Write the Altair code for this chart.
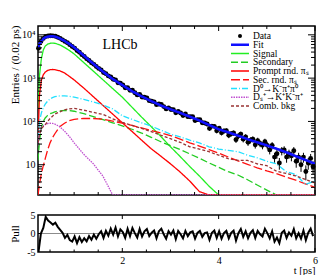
import altair as alt
import pandas as pd

# ---------------- data ----------------
# decay-time bin centres [ps]
t_data = [round(0.26 + 0.05 * i, 2) for i in range(115)]
# entries per 0.02 ps
n_data = [4900, 7050, 8270, 9130, 9390, 9520, 9470, 9300, 8820, 8290,
          7650, 7050, 6540, 5930, 5370, 4940, 4330, 3970, 3490, 3150,
          2790, 2550, 2260, 2080, 1850, 1680, 1555, 1350, 1270, 1125,
          1060, 940, 910, 785, 765, 695, 600, 605, 523, 527,
          461, 410, 422, 366, 361, 349, 302, 292, 283, 244,
          253, 247, 220, 195, 206, 189, 187, 159, 170, 157,
          137, 148, 129, 128, 128, 105, 110, 109, 93, 92,
          87, 69, 78, 77, 61, 70, 55, 60, 61, 48,
          52, 54, 38, 46, 51, 39, 44, 33, 37, 39,
          29, 36, 31, 28, 34, 28, 22, 28, 15, 18,
          11, 21, 22, 15, 18, 16, 21, 12, 15, 10,
          15, 7, 11, 14, 9]
pull_data = [-5.0, 0.0, 1.5, 4.5, 3.5, 3.0, 2.4, 2.9, 1.8, 1.0,
             0.2, -1.2, -0.4, -1.8, -2.2, -0.8, -2.6, -1.0, -2.3, -1.3,
             -2.1, -0.7, -1.7, -0.3, -1.4, -0.2, 0.6, -1.2, 0.7, -0.6,
             1.3, -0.3, 1.6, -0.8, 1.1, 0.4, -1.2, 1.3, -0.7, 1.5,
             0.1, -1.1, 1.2, -0.8, 0.6, 1.2, -0.7, 0.2, 0.8, -1.3,
             0.6, 1.3, -0.2, -1.4, 0.6, -0.3, 0.8, -1.5, 0.7, -0.2,
             -1.3, 0.7, -0.7, 0.3, 0.6, -1.4, 0.2, 0.7, -0.9, 0.1,
             0.3, -1.7, 0.2, 0.8, -1.2, 0.6, -1.4, 0.1, 0.7, -1.3,
             0.2, 0.8, -1.9, 0.1, 1.2, -0.9, 0.6, -1.3, 0.2, 0.9,
             -1.2, 0.7, -0.2, -0.8, 1.3, 0.1, -1.3, 0.6, -2.2, -1.1,
             -2.6, 0.2, 0.8, -1.2, 0.3, -0.6, 1.2, -1.3, 0.1, -1.4,
             0.8, -1.8, 0.2, 1.3, -0.7]

t_knots = [0.25, 0.28, 0.32, 0.36, 0.40, 0.45, 0.50, 0.55, 0.60, 0.70, 0.80, 0.90, 1.0,
           1.2, 1.4, 1.6, 1.8, 2.0, 2.2, 2.4, 2.6, 2.8, 3.0, 3.2, 3.4, 3.6, 3.8, 4.0,
           4.2, 4.4, 4.6, 4.8, 5.0, 5.2, 5.4, 5.6, 5.8, 6.0]
fit_vals = [5000, 6170, 7240, 8130, 8710, 9060, 9230, 9250, 9120, 8320, 7240, 6170, 5130,
            3310, 2140, 1410, 955, 692, 501, 380, 295, 234, 191, 158, 129, 105, 83, 66,
            56, 47, 39, 33, 28, 23.4, 19.5, 15.8, 12.9, 10.5]
signal_vals = [200, 1120, 2820, 4470, 5500, 6100, 6380, 6460, 6380, 5890, 5130, 4370, 3630,
               2290, 1445, 912, 575, 363, 214, 126, 76, 45, 26, 15.5, 9.1, 5.5, 3.2, 2.0,
               2, 2, 2, 2, 2, 2, 2, 2, 2, 2]
secondary_vals = [12.6, 35, 71, 100, 120, 138, 151, 158, 166, 176, 180, 178, 172,
                  151, 129, 110, 93, 79, 66, 54, 43, 34, 27.5, 22.4, 17.8, 14.1, 11, 8.7,
                  6.9, 5.8, 4.5, 3.4, 2.6, 2.0, 2, 2, 2, 2]
prompt_rnd_vals = [32, 400, 890, 1200, 1380, 1510, 1570, 1585, 1570, 1480, 1320, 1100, 910,
                   590, 372, 234, 148, 93, 59, 37, 23.4, 15.8, 10.5, 6.8, 4.2, 2.4, 2.0, 2,
                   2, 2, 2, 2, 2, 2, 2, 2, 2, 2]
sec_rnd_vals = [2.0, 3.5, 6.3, 9.5, 13.8, 22, 32, 42, 52, 76, 91, 105, 112,
                117, 117, 112, 102, 91, 81, 71, 62, 54, 47, 39, 32, 27, 22.4, 18.6,
                15.1, 12.3, 10.2, 8.5, 7.2, 6.2, 5.2, 4.4, 3.6, 3.0]
kpipi0_vals = [40, 100, 158, 209, 251, 295, 331, 355, 372, 389, 389, 380, 363,
               324, 282, 240, 195, 135, 112, 93, 78, 63, 51, 44, 37, 32, 26, 23,
               21.4, 20, 16.6, 14.5, 12, 10.5, 6.9, 6.0, 3.5, 4.2]
kkpi_vals = [28, 50, 71, 79, 85, 89, 91, 90, 87, 76, 60, 45, 32,
             17.4, 10.5, 5.4, 2.0, 2, 2, 2, 2, 2, 2, 2, 2, 2, 2, 2,
             2, 2, 2, 2, 2, 2, 2, 2, 2, 2]
comb_vals = [32, 50, 68, 76, 83, 100, 117, 132, 148, 166, 186, 195, 200,
             182, 162, 145, 115, 95, 81, 69, 58, 48, 40, 33, 26, 23, 20, 16.6,
             13.8, 12.6, 12.6, 10.5, 9.5, 7.1, 6.3, 5.5, 4.6, 3.8]

names = ["Fit", "Signal", "Secondary", "Prompt rnd. πₛ", "Sec. rnd. πₛ",
         "D⁰→K⁻π⁺π⁰", "Dₛ⁺→K⁺K⁻π⁺", "Comb. bkg"]
legend_names = ["Data"] + names
colors = ["#1010ff", "#22ee22", "#22cc22", "#ff0000", "#ff1010",
          "#22e0ff", "#c050d0", "#993333"]
dashes = [[1, 0], [1, 0], [7, 3], [1, 0], [9, 3], [6, 2, 1, 2], [1.5, 1], [3, 2]]

comp_lists = [signal_vals, secondary_vals, prompt_rnd_vals, sec_rnd_vals,
              kpipi0_vals, kkpi_vals, comb_vals]

# tick positions (axis decorations, ROOT style: drawn inside the frame)
major_x = [2, 4, 6]
minor_x = [0.5, 1, 1.5, 2.5, 3, 3.5, 4.5, 5, 5.5]
major_y = [10, 100, 1000, 10000]
minor_y = [3, 4, 5, 6, 7, 8, 9, 20, 30, 40, 50, 60, 70, 80, 90,
           200, 300, 400, 500, 600, 700, 800, 900,
           2000, 3000, 4000, 5000, 6000, 7000, 8000, 9000]
pull_ticks = [-5, 0, 5]

# ---------------- tables ----------------
df_data = pd.DataFrame({"t": t_data, "n": n_data})
df_pull = pd.DataFrame({"t": t_data, "pull": pull_data})
rows = []
for nm, vals in zip(names[1:], comp_lists):
    for t, v in zip(t_knots, vals):
        rows.append({"t": t, "v": v, "comp": nm})
df_comp = pd.DataFrame(rows)
df_fit = pd.DataFrame({"t": t_knots, "v": fit_vals, "comp": ["Fit"] * len(t_knots)})

# ---------------- scales ----------------
W, H, HP = 277, 169, 37
xs = alt.Scale(domain=[0.25, 6], nice=False, zero=False)
ys = alt.Scale(type="log", domain=[2, 16000], nice=False)
ps = alt.Scale(domain=[-5, 5], nice=False, zero=False)
leg_y = alt.Scale(type="point", domain=legend_names, range=[10, 80], padding=0)

color_enc = alt.Color("comp:N", scale=alt.Scale(domain=names, range=colors), legend=None)
dash_enc = alt.StrokeDash("comp:N", scale=alt.Scale(domain=names, range=dashes), legend=None)


def xticks(values, y0, y1):
    return alt.Chart(pd.DataFrame({"v": values})).mark_rule(color="black", strokeWidth=1).encode(
        x=alt.X("v:Q", scale=xs, axis=None), y=alt.value(y0), y2=alt.value(y1))


def yticks(values, x0, x1, scale=ys):
    return alt.Chart(pd.DataFrame({"v": values})).mark_rule(color="black", strokeWidth=1).encode(
        y=alt.Y("v:Q", scale=scale, axis=None), x=alt.value(x0), x2=alt.value(x1))


# ---------------- main panel ----------------
errbars = alt.Chart(df_data).transform_calculate(
    lo="datum.n - sqrt(datum.n)", hi="datum.n + sqrt(datum.n)"
).mark_rule(color="black", strokeWidth=1).encode(
    x=alt.X("t:Q", scale=xs, axis=None),
    y=alt.Y("lo:Q", scale=ys, axis=None),
    y2="hi:Q",
)

points = alt.Chart(df_data).mark_point(filled=True, size=24, color="black", opacity=1).encode(
    x=alt.X("t:Q", scale=xs, axis=None),
    y=alt.Y("n:Q", scale=ys, axis=alt.Axis(
        orient="left", values=major_y, ticks=False, tickSize=0, domain=False, grid=False,
        labelPadding=3, labelFlush=False,
        labelExpr="datum.value == 10 ? '10' : datum.value == 100 ? '10²' : datum.value == 1000 ? '10³' : '10⁴'",
        title="Entries / (0.02 ps)", titleX=-22.5, titleY=-1, titleAlign="right",
        titleBaseline="middle", titleAngle=270, titleFontSize=11)),
)

comps = alt.Chart(df_comp).mark_line(clip=True, strokeWidth=1.3).encode(
    x=alt.X("t:Q", scale=xs, axis=None),
    y=alt.Y("v:Q", scale=ys, axis=None),
    color=color_enc, strokeDash=dash_enc,
)

fit = alt.Chart(df_fit).mark_line(clip=True, strokeWidth=2.6).encode(
    x=alt.X("t:Q", scale=xs, axis=None),
    y=alt.Y("v:Q", scale=ys, axis=None),
    color=color_enc, strokeDash=dash_enc,
)

lhcb = alt.Chart(pd.DataFrame({"txt": ["LHCb"]})).mark_text(
    font="Liberation Serif", fontSize=14, align="center", baseline="middle", color="black"
).encode(text="txt:N", x=alt.value(82), y=alt.value(19))

# legend (top right, inside the frame)
leg_lines = alt.Chart(pd.DataFrame({"comp": names})).mark_rule().encode(
    x=alt.value(193), x2=alt.value(211),
    y=alt.Y("comp:N", scale=leg_y, axis=None),
    color=color_enc, strokeDash=dash_enc,
    strokeWidth=alt.condition(alt.datum.comp == "Fit", alt.value(2.6), alt.value(1.3)),
)
leg_dot = alt.Chart(pd.DataFrame({"comp": ["Data"]})).mark_point(
    filled=True, size=16, color="black", opacity=1).encode(
    x=alt.value(202), y=alt.Y("comp:N", scale=leg_y, axis=None))
leg_text = alt.Chart(pd.DataFrame({"comp": legend_names})).mark_text(
    align="left", baseline="middle", font="Liberation Serif", fontSize=9.5, color="black"
).encode(x=alt.value(215), y=alt.Y("comp:N", scale=leg_y, axis=None), text="comp:N")

main = alt.layer(
    errbars, points, comps, fit, lhcb,
    xticks(major_x, H, H - 5), xticks(minor_x, H, H - 3),
    xticks(major_x, 0, 5), xticks(minor_x, 0, 3),
    yticks(major_y, 0, 7), yticks(minor_y, 0, 4),
    yticks(major_y, W, W - 7), yticks(minor_y, W, W - 4),
    leg_lines, leg_dot, leg_text,
).resolve_scale(y="independent").properties(width=W, height=H)

# ---------------- pull panel ----------------
zero = alt.Chart(pd.DataFrame({"z": [0]})).mark_rule(color="#8c8c8c", strokeWidth=1).encode(
    y=alt.Y("z:Q", scale=ps, axis=None))

pull_line = alt.Chart(df_pull).mark_line(color="black", strokeWidth=2, clip=True).encode(
    x=alt.X("t:Q", scale=xs, axis=alt.Axis(
        orient="bottom", values=major_x, ticks=False, tickSize=0, domain=False, grid=False,
        labelPadding=3, labelFlush=False, title="t [ps]", titleX=W, titleY=21.5,
        titleAlign="right", titleBaseline="alphabetic", titleFontSize=10.5)),
    y=alt.Y("pull:Q", scale=ps, axis=alt.Axis(
        orient="left", values=pull_ticks, ticks=False, tickSize=0, domain=False, grid=False,
        labelPadding=3, labelFlush=False, labelExpr="'' + datum.value",
        title="Pull", titleX=-22.5, titleY=HP / 2, titleAlign="center",
        titleBaseline="middle", titleAngle=270, titleFontSize=11)),
)

pull = alt.layer(
    zero, pull_line,
    xticks(major_x, HP, HP - 4), xticks(minor_x, HP, HP - 2.5), xticks(major_x, 0, 4),
    yticks([0], 0, 4, scale=ps),
).resolve_scale(x="independent", y="independent").properties(width=W, height=HP)

chart = alt.vconcat(main, pull, spacing=12).properties(
    padding={"left": 0, "top": 16, "right": 4, "bottom": 0}
).configure(font="Liberation Serif").configure_view(
    stroke="black", strokeWidth=1.5
).configure_axis(
    labelFont="Liberation Serif", labelFontSize=10, labelColor="black",
    titleFont="Liberation Serif", titleFontWeight="normal", titleColor="black"
)

chart.save("out.html", embed_options={"renderer": "svg", "actions": False})
